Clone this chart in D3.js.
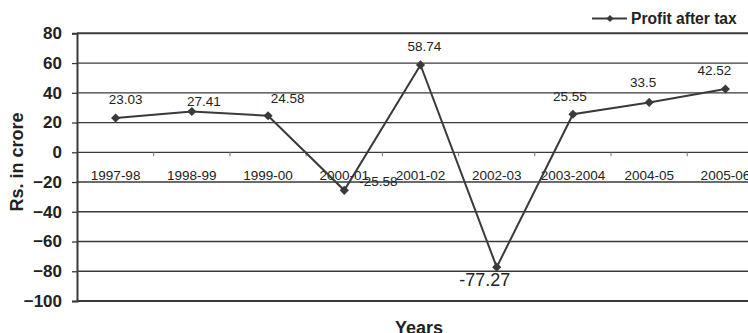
<!DOCTYPE html>
<html><head><meta charset="utf-8">
<script src="https://cdn.jsdelivr.net/npm/d3@7"></script>
<style>html,body{margin:0;padding:0;background:#fff;overflow:hidden}text{font-family:Arial,"Liberation Sans",sans-serif}</style>
</head><body><svg id="c" width="748" height="333"></svg>
<script>
const categories = ["1997-98","1998-99","1999-00","2000-01","2001-02","2002-03","2003-2004","2004-05","2005-06"];
const profitAfterTax = [23.03, 27.41, 24.58, -25.58, 58.74, -77.27, 25.55, 33.5, 42.52];
const valueLabels = ["23.03","27.41","24.58","-25.58","58.74","-77.27","25.55","33.5","42.52"];
const yTicks = [80, 60, 40, 20, 0, -20, -40, -60, -80, -100];
const seriesName = "Profit after tax";

// label placement (layout only)
const labelDx = [10, 12, 19.5, 15, 4, -12, -3, -6, -11];
const labelDy = [-14, -6, -13, -4, -13.5, 18.5, -13.5, -15.5, -14.5];
const labelAnchor = ["middle","middle","middle","start","middle","middle","middle","middle","middle"];

const svg = d3.select("#c");
const x = d3.scaleBand().domain(categories).range([77.5, 763.5]).padding(0);
const y = d3.scaleLinear().domain([-100, 80]).range([301, 33.3]);
const dark = "#3a3a3a";

// gridlines
svg.append("g").selectAll("line").data(yTicks).join("line")
  .attr("x1", 77).attr("x2", 748)
  .attr("y1", d => y(d)).attr("y2", d => y(d))
  .attr("stroke", dark)
  .attr("stroke-width", d => (d === 80 || d === -100) ? 2 : 1.3);

// y axis
const yAxis = svg.append("g").attr("transform", "translate(77,0)")
  .call(d3.axisLeft(y).tickValues(yTicks).tickSize(5).tickPadding(10).tickFormat(d3.format("d")));
yAxis.select(".domain").attr("stroke", dark).attr("stroke-width", 2);
yAxis.selectAll(".tick line").attr("stroke", dark).attr("stroke-width", 1.3);
yAxis.selectAll(".tick text").attr("fill", "#222").attr("font-size", 17).attr("font-weight", "bold")
  .attr("font-family", "Arial, 'Liberation Sans', sans-serif");

// x axis at zero
const xAxis = svg.append("g").attr("transform", `translate(0,${y(0)})`)
  .call(d3.axisBottom(x).tickSize(0).tickPadding(0));
xAxis.select(".domain").remove();
xAxis.selectAll(".tick text").attr("y", 27.5).attr("dy", null).attr("fill", "#222")
  .attr("font-size", 13.5).attr("font-family", "Arial, 'Liberation Sans', sans-serif");
// tick marks at band boundaries
svg.append("g").selectAll("line").data(categories.slice(1)).join("line")
  .attr("x1", d => x(d)).attr("x2", d => x(d))
  .attr("y1", y(0)).attr("y2", y(0) + 4)
  .attr("stroke", "#777").attr("stroke-width", 1);

// series line
const line = d3.line().x((d, i) => x(categories[i]) + x.bandwidth() / 2).y(d => y(d));
svg.append("path").datum(profitAfterTax).attr("d", line)
  .attr("fill", "none").attr("stroke", dark).attr("stroke-width", 2);

const marker = d3.symbol().type(d3.symbolSquare).size(42);
svg.append("g").selectAll("path").data(profitAfterTax).join("path")
  .attr("d", marker)
  .attr("transform", (d, i) => `translate(${x(categories[i]) + x.bandwidth() / 2},${y(d)}) rotate(45)`)
  .attr("fill", dark);

// value labels
svg.append("g").selectAll("text").data(profitAfterTax).join("text")
  .attr("x", (d, i) => x(categories[i]) + x.bandwidth() / 2 + labelDx[i])
  .attr("y", (d, i) => y(d) + labelDy[i])
  .attr("text-anchor", (d, i) => labelAnchor[i])
  .attr("font-size", (d, i) => d === d3.min(profitAfterTax) ? 18 : 13.5)
  .attr("fill", "#222")
  .text((d, i) => valueLabels[i]);

// axis titles
svg.append("text").attr("transform", "translate(23,162) rotate(-90)")
  .attr("text-anchor", "middle").attr("font-size", 18).attr("font-weight", "bold").attr("fill", "#222")
  .text("Rs. in crore");
svg.append("text").attr("x", 419).attr("y", 334)
  .attr("text-anchor", "middle").attr("font-size", 18).attr("font-weight", "bold").attr("fill", "#222")
  .text("Years");

// legend
const lg = svg.append("g");
lg.append("line").attr("x1", 592).attr("x2", 627).attr("y1", 18.5).attr("y2", 18.5)
  .attr("stroke", dark).attr("stroke-width", 2);
lg.append("path").attr("d", d3.symbol().type(d3.symbolSquare).size(26))
  .attr("transform", "translate(610,18.5) rotate(45)").attr("fill", dark);
lg.append("text").attr("x", 631).attr("y", 24).attr("font-size", 15.6).attr("font-weight", "bold")
  .attr("fill", "#222").text(seriesName);
</script></body></html>
